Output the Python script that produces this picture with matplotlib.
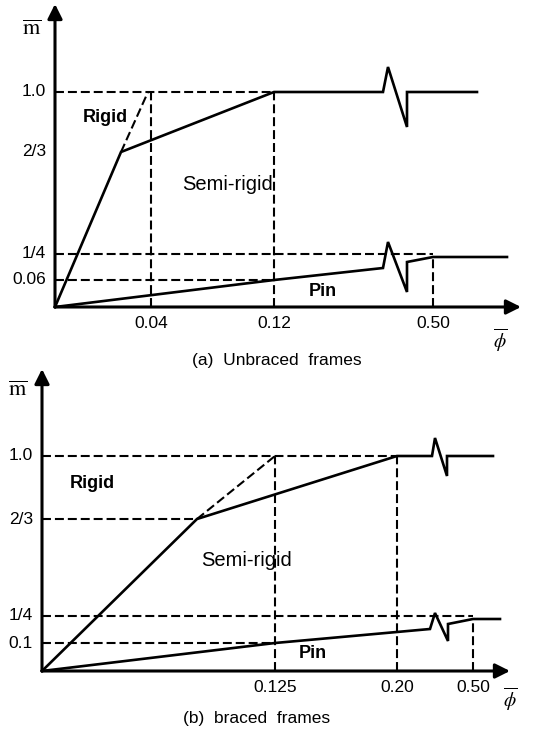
import matplotlib
matplotlib.use('Agg')
import matplotlib.pyplot as plt

plt.rcParams['font.family'] = ['Liberation Sans', 'DejaVu Sans']

# schematic diagram units (not to scale), origin at the axes corner
# (a) unbraced frames
m_labels_a = ['0.06', '1/4', '2/3', '1.0']
m_pos_a = [27, 53, 155, 215]
phi_labels_a = ['0.04', '0.12', '0.50']
phi_pos_a = [96, 219, 378]
semi_a = [(0, 0), (66, 155), (219, 215), (328, 215), (333, 240), (352, 180),
          (352, 215), (422, 215)]
rigid_a = [(66, 155), (93, 215)]
pin_a = [(0, 0), (219, 27), (328, 39), (333, 65), (352, 15), (352, 45),
         (378, 50), (452, 50)]

# (b) braced frames
m_labels_b = ['0.1', '1/4', '2/3', '1.0']
m_pos_b = [28, 55, 152, 215]
phi_labels_b = ['0.125', '0.20', '0.50']
phi_pos_b = [233, 355, 431]
semi_b = [(0, 0), (155, 152), (355, 215), (390, 215), (393, 233), (405, 195),
          (405, 215), (451, 215)]
rigid_b = [(155, 152), (233, 215)]
pin_b = [(0, 0), (233, 28), (388, 42), (393, 58), (406, 30), (406, 47),
         (431, 52), (458, 52)]

DASH = (0, (4.3, 1.9))
LW = 1.9


def dashed(ax, xs, ys):
    ax.plot(xs, ys, color='k', ls=DASH, lw=1.5)


def solid(ax, pts):
    xs, ys = zip(*pts)
    ax.plot(xs, ys, color='k', lw=LW, solid_joinstyle='miter')


def panel(ax, m_labels, m_pos, phi_labels, phi_pos, semi, rigid, pin, guide_23,
          xmax, ymax, caption, cap_xy, labels_xy, mbar_xy, phibar_xy):
    for tip in [(0, ymax), (xmax, 0)]:
        ax.annotate('', xy=tip, xytext=(0, 0),
                    arrowprops=dict(arrowstyle='-|>', lw=2.2, color='k',
                                    mutation_scale=22, shrinkA=0, shrinkB=0))

    m_low, m_q, m_23, m_1 = m_pos
    knee = semi[1]
    # guide lines
    dashed(ax, [0, semi[2][0]], [m_1, m_1])
    dashed(ax, [0, phi_pos[2]], [m_q, m_q])
    dashed(ax, [0, pin[1][0]], [m_low, m_low])
    dashed(ax, [phi_pos[2], phi_pos[2]], [0, pin[6][1]])
    dashed(ax, [phi_pos[0], phi_pos[0]], [0, m_1])
    dashed(ax, [phi_pos[1], phi_pos[1]], [0, m_1])
    if guide_23:
        dashed(ax, [0, knee[0]], [m_23, m_23])
    dashed(ax, *zip(*rigid))

    solid(ax, semi)
    solid(ax, pin)

    for lab, y in zip(m_labels, m_pos):
        ax.text(-9, y, lab, ha='right', va='center', fontsize=12.5)
    for lab, x in zip(phi_labels, phi_pos):
        ax.text(x, -17, lab, ha='center', va='center', fontsize=12.5)

    (rx, ry), (sx, sy), (px, py) = labels_xy
    ax.text(rx, ry, 'Rigid', ha='center', va='center', fontsize=13, fontweight='bold')
    ax.text(sx, sy, 'Semi-rigid', ha='center', va='center', fontsize=14.5)
    ax.text(px, py, 'Pin', ha='center', va='center', fontsize=13, fontweight='bold')
    ax.text(*mbar_xy, r'$\overline{\mathrm{m}}$', ha='center', va='center',
            fontsize=16, math_fontfamily='stix')
    ax.text(*phibar_xy, r'$\overline{\phi}$', ha='center', va='center',
            fontsize=14, math_fontfamily='stix')
    ax.text(*cap_xy, caption, ha='center', va='center', fontsize=12.5)


fig = plt.figure(figsize=(5.33, 7.32), dpi=100)

ax_a = fig.add_axes([0, 0.5, 1, 0.5])
ax_a.set_xlim(-55, 478)
ax_a.set_ylim(-59, 307)
ax_a.axis('off')
panel(ax_a, m_labels_a, m_pos_a, phi_labels_a, phi_pos_a, semi_a, rigid_a, pin_a, False,
      466, 303, '(a)  Unbraced  frames', (222, -53),
      [(50, 189), (173, 122), (268, 15)], (-23, 277), (445, -33))

ax_b = fig.add_axes([0, 0, 1, 0.5])
ax_b.set_xlim(-42, 491)
ax_b.set_ylim(-61, 305)
ax_b.axis('off')
panel(ax_b, m_labels_b, m_pos_b, phi_labels_b, phi_pos_b, semi_b, rigid_b, pin_b, True,
      468, 302, '(b)  braced  frames', (215, -48),
      [(50, 188), (205, 110), (271, 18)], (-24, 280), (468, -28))

fig.savefig('out.png', dpi=100)
